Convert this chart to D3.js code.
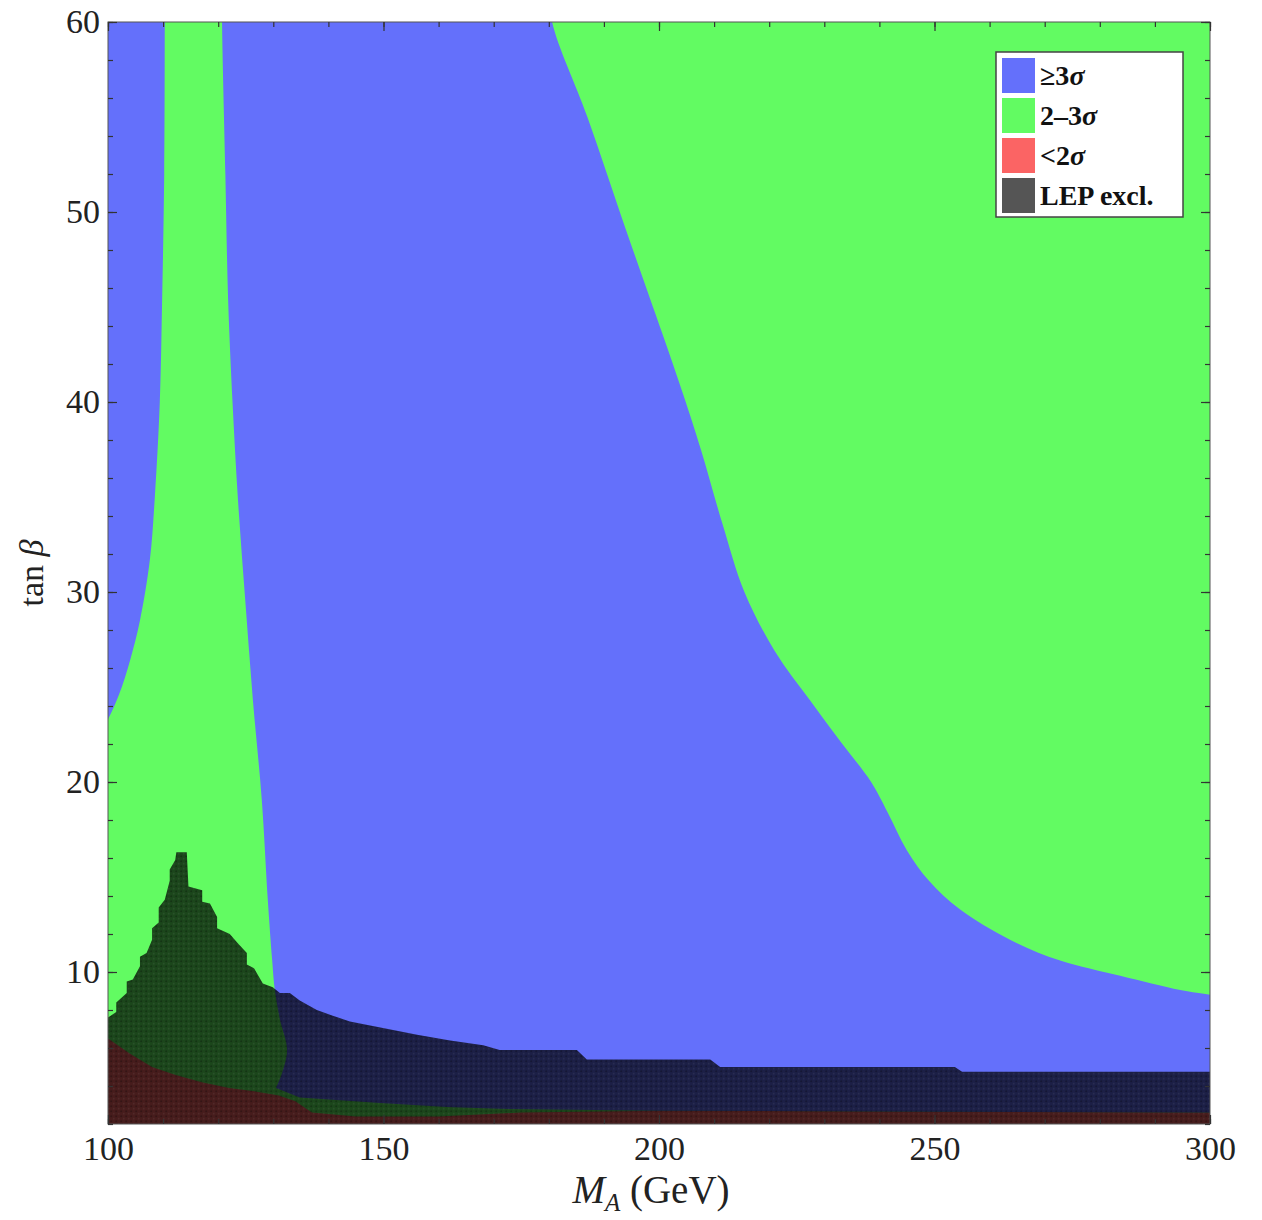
<!DOCTYPE html>
<html>
<head>
<meta charset="utf-8">
<script src="https://cdn.jsdelivr.net/npm/d3@7"></script>
<style>
  body { margin: 0; background: #fff; }
  svg text { font-family: "Liberation Serif", "DejaVu Serif", serif; }
</style>
</head>
<body>
<svg id="plot"></svg>
<script>
// axis ticks
const xTickValues = [100, 150, 200, 250, 300];
const yTickValues = [10, 20, 30, 40, 50, 60];
const xMinorValues = d3.range(100, 301, 10);
const yMinorValues = d3.range(2, 61, 2);

// legend
const legendLabels = ["≥3σ", "2–3σ", "<2σ", "LEP excl."];
const legendColors = ["#6470fb", "#62fb62", "#fb6464", "#555555"];

// region boundaries, [M_A, tan beta]
const blueStripEdge = [[110.3, 62], [110.3, 60], [110.2, 52], [109.8, 45], [109.4, 40], [108.5, 35],
  [107.6, 31.7], [105.8, 28.5], [104, 26.4], [102, 24.6], [100, 23.3], [98, 22.3]];

const blueMainLeft = [[120.7, 62], [120.7, 60], [121.3, 52], [121.8, 45.4], [122.6, 40], [123.6, 34.8],
  [124.9, 29.6], [126.3, 24.3], [127.9, 19.1], [129, 13.8], [129.8, 10.6], [130.3, 9],
  [131.2, 7.5], [132.5, 5.9], [131.5, 4.6], [130.5, 3.9]];
const blueMainBottom = [[134.8, 3.4], [149.4, 3.1], [161.5, 2.9], [171, 2.8], [200, 2.7],
  [250, 2.65], [302, 2.6]];
const blueMainRight = [[302, 8.7], [300, 8.8], [294.6, 9.05], [283.7, 9.8], [272.8, 10.6], [263.7, 11.7],
  [254.6, 13.3], [249, 14.8], [245, 16.4], [241.5, 18.4], [238.5, 20], [233, 22.1], [227.4, 24.3],
  [221, 26.9], [215.5, 30], [211.5, 33.6], [207.6, 37.5], [204.5, 40.3], [200.6, 43.6],
  [194.2, 48.9], [187, 55], [180.6, 60], [180, 62]];

const redLow = [[100, 2], [100, 6.5], [104, 5.7], [108, 5.0], [112, 4.6], [117, 4.2],
  [122, 3.9], [127, 3.7], [131, 3.5], [134, 3.2], [137, 2.6], [145, 2.4], [160, 2.4],
  [175, 2.6], [200, 2.7], [250, 2.65], [300, 2.6], [300, 2]];

const lepExcl = [[100, 2], [100, 7.6], [101.5, 7.9], [101.5, 8.4], [103.4, 8.9], [103.4, 9.5],
  [104.5, 9.6], [105.8, 10.3], [105.8, 10.8], [107, 11], [108, 11.7], [108, 12.3], [109.2, 12.6],
  [109.2, 13.4], [110.3, 13.8], [111.2, 14.8], [111.2, 15.4], [112.2, 15.9], [112.4, 16.3],
  [114.3, 16.3], [114.6, 14.5], [117.1, 14.3], [117.1, 13.7], [118.5, 13.6], [119.8, 12.9],
  [119.8, 12.3], [122.1, 12.0], [123.6, 11.5], [125.2, 11.0], [125.2, 10.4], [126.5, 10.2],
  [128.1, 9.4], [129.9, 9.2], [131.2, 8.9], [133, 8.9], [134.8, 8.5], [137.9, 8.0], [140.8, 7.7],
  [143.9, 7.4], [149.9, 7.05], [156.1, 6.7], [162.1, 6.4], [168.1, 6.15], [171.1, 5.9],
  [185.1, 5.9], [186.9, 5.4], [209.3, 5.4], [211.1, 5.0], [253.7, 5.0], [255, 4.75],
  [300, 4.75], [300, 2]];

const width = 1262, height = 1220;
const margin = { top: 22, right: 52, bottom: 96, left: 108 };

const svg = d3.select("#plot")
  .attr("width", width)
  .attr("height", height);

const x = d3.scaleLinear()
  .domain([100, 300])
  .range([margin.left, width - margin.right]);

const y = d3.scaleLinear()
  .domain([2, 60])
  .range([height - margin.bottom, margin.top]);

const defs = svg.append("defs");
defs.append("clipPath").attr("id", "clip")
  .append("rect")
  .attr("x", x(100)).attr("y", y(60))
  .attr("width", x(300) - x(100)).attr("height", y(2) - y(60));

// dithered dark overlay for LEP exclusion
const pat = defs.append("pattern").attr("id", "lepFill")
  .attr("patternUnits", "userSpaceOnUse")
  .attr("width", 5).attr("height", 5);
pat.append("rect").attr("width", 5).attr("height", 5).attr("fill", "rgba(0,0,0,0.72)");
pat.append("circle").attr("cx", 1.2).attr("cy", 1.2).attr("r", 1).attr("fill", "rgba(0,0,0,0.25)");
pat.append("circle").attr("cx", 3.7).attr("cy", 3.7).attr("r", 0.9).attr("fill", "rgba(255,255,255,0.06)");

const line = d3.line().x(d => x(d[0])).y(d => y(d[1]));
const smooth = d3.line().x(d => x(d[0])).y(d => y(d[1])).curve(d3.curveCatmullRom.alpha(0.5));
const cont = p => p.replace(/^M/, "L");

const plotArea = svg.append("g").attr("clip-path", "url(#clip)");

// 2-3 sigma background
plotArea.append("rect")
  .attr("x", x(100)).attr("y", y(60))
  .attr("width", x(300) - x(100)).attr("height", y(2) - y(60))
  .attr("fill", legendColors[1]);

plotArea.append("path")
  .attr("d", line(redLow) + "Z")
  .attr("fill", legendColors[2]);

plotArea.append("path")
  .attr("d", line([[98, 62]]) + cont(smooth(blueStripEdge)) + "Z")
  .attr("fill", legendColors[0]);

plotArea.append("path")
  .attr("d", smooth(blueMainLeft) + cont(line(blueMainBottom)) + cont(smooth(blueMainRight)) + "Z")
  .attr("fill", legendColors[0]);

plotArea.append("path")
  .attr("d", line(lepExcl) + "Z")
  .attr("fill", "url(#lepFill)");

// frame
svg.append("rect")
  .attr("x", x(100)).attr("y", y(60))
  .attr("width", x(300) - x(100)).attr("height", y(2) - y(60))
  .attr("fill", "none")
  .attr("stroke", "#555")
  .attr("stroke-width", 1);

// ticks, pointing inwards on all four sides
function styleAxis(g) {
  g.select(".domain").remove();
  g.selectAll(".tick line").attr("stroke", "#333").attr("stroke-width", 1.2);
  g.selectAll(".tick text")
    .attr("fill", "#222")
    .style("font-size", "34px")
    .style("font-family", "'Liberation Serif', serif");
}

const yBottom = height - margin.bottom;

svg.append("g")
  .attr("transform", `translate(0, ${yBottom})`)
  .call(d3.axisBottom(x).tickValues(xMinorValues).tickSizeInner(-5).tickSizeOuter(0).tickFormat(""))
  .call(styleAxis);
svg.append("g")
  .attr("transform", `translate(0, ${yBottom})`)
  .call(d3.axisBottom(x).tickValues(xTickValues).tickSizeInner(-9).tickSizeOuter(0).tickPadding(12))
  .call(styleAxis);

svg.append("g")
  .attr("transform", `translate(0, ${margin.top})`)
  .call(d3.axisTop(x).tickValues(xMinorValues).tickSizeInner(-5).tickSizeOuter(0).tickFormat(""))
  .call(styleAxis);
svg.append("g")
  .attr("transform", `translate(0, ${margin.top})`)
  .call(d3.axisTop(x).tickValues(xTickValues).tickSizeInner(-9).tickSizeOuter(0).tickFormat(""))
  .call(styleAxis);

svg.append("g")
  .attr("transform", `translate(${margin.left}, 0)`)
  .call(d3.axisLeft(y).tickValues(yMinorValues).tickSizeInner(-5).tickSizeOuter(0).tickFormat(""))
  .call(styleAxis);
svg.append("g")
  .attr("transform", `translate(${margin.left}, 0)`)
  .call(d3.axisLeft(y).tickValues(yTickValues).tickSizeInner(-9).tickSizeOuter(0).tickPadding(8))
  .call(styleAxis);

svg.append("g")
  .attr("transform", `translate(${width - margin.right}, 0)`)
  .call(d3.axisRight(y).tickValues(yMinorValues).tickSizeInner(-5).tickSizeOuter(0).tickFormat(""))
  .call(styleAxis);
svg.append("g")
  .attr("transform", `translate(${width - margin.right}, 0)`)
  .call(d3.axisRight(y).tickValues(yTickValues).tickSizeInner(-9).tickSizeOuter(0).tickFormat(""))
  .call(styleAxis);

// axis titles
const xTitle = svg.append("text")
  .attr("x", (x(100) + x(300)) / 2 - 8)
  .attr("y", 1203)
  .attr("text-anchor", "middle")
  .attr("fill", "#222")
  .style("font-size", "39px");
xTitle.append("tspan").style("font-style", "italic").text("M");
xTitle.append("tspan").style("font-style", "italic").style("font-size", "25px").attr("dy", 8).text("A");
xTitle.append("tspan").attr("dy", -8).text(" (GeV)");

const yTitle = svg.append("text")
  .attr("transform", `translate(43, ${(y(2) + y(60)) / 2}) rotate(-90)`)
  .attr("text-anchor", "middle")
  .attr("fill", "#222")
  .style("font-size", "34px");
yTitle.append("tspan").text("tan ");
yTitle.append("tspan").style("font-style", "italic").text("β");

// legend
const legend = svg.append("g").attr("transform", "translate(996, 52)");
legend.append("rect")
  .attr("width", 187).attr("height", 165)
  .attr("fill", "#fff")
  .attr("stroke", "#444")
  .attr("stroke-width", 1.5);

legendLabels.forEach((label, i) => {
  legend.append("rect")
    .attr("x", 6).attr("y", 6 + i * 40)
    .attr("width", 33).attr("height", 35)
    .attr("fill", legendColors[i]);

  const t = legend.append("text")
    .attr("x", 44).attr("y", 33 + i * 40)
    .attr("fill", "#111")
    .style("font-size", "28px")
    .style("font-weight", "bold");
  const parts = label.split("σ");
  t.append("tspan").text(parts[0]);
  if (parts.length > 1) {
    t.append("tspan").style("font-style", "italic").text("σ");
  }
});
</script>
</body>
</html>
